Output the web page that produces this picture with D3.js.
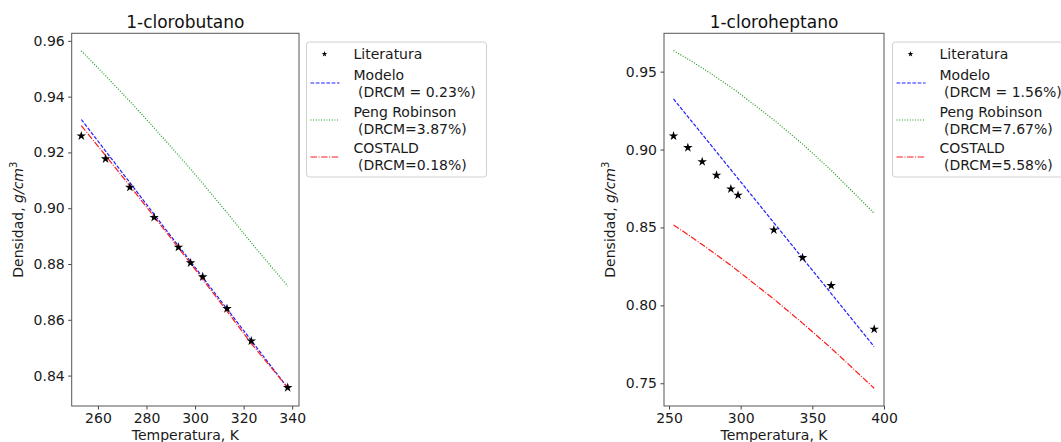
<!DOCTYPE html>
<html>
<head>
<meta charset="utf-8">
<script src="https://cdn.jsdelivr.net/npm/d3@7"></script>
<style>
  body { margin: 0; background: #fff; }
  svg { font-family: "DejaVu Sans", sans-serif; display: block; }
  .pre { white-space: pre; }
</style>
</head>
<body>
<div id="chart"></div>
<script>
// 1-clorobutano
const tempButano = [253.15, 263.15, 273.15, 283.15, 293.15, 298.15, 303.15, 313.15, 323.15, 338.15];
const litButano = [0.9259, 0.9177, 0.9075, 0.8967, 0.8860, 0.8804, 0.8754, 0.8640, 0.8524, 0.8357];
const modeloButano = [0.9318, 0.9205, 0.9092, 0.8978, 0.8865, 0.8809, 0.8752, 0.8639, 0.8526, 0.8356];
const pengButano = [0.9564, 0.9475, 0.9383, 0.9288, 0.9190, 0.9140, 0.9089, 0.8984, 0.8876, 0.8721];
const costaldButano = [0.9296, 0.9189, 0.9080, 0.8970, 0.8858, 0.8802, 0.8745, 0.8631, 0.8515, 0.8357];

// 1-cloroheptano
const tempHeptano = [253.15, 263.15, 273.15, 283.15, 293.15, 298.15, 323.15, 343.15, 363.15, 393.15];
const litHeptano = [0.9087, 0.9012, 0.8922, 0.8835, 0.8747, 0.8707, 0.8484, 0.8306, 0.8127, 0.7847];
const modeloHeptano = [0.9325, 0.9211, 0.9098, 0.8984, 0.8871, 0.8814, 0.8530, 0.8303, 0.8076, 0.7735];
const pengHeptano = [0.9635, 0.9581, 0.9524, 0.9463, 0.9400, 0.9367, 0.9190, 0.9035, 0.8867, 0.8591];
const costaldHeptano = [0.8516, 0.8454, 0.8390, 0.8324, 0.8256, 0.8221, 0.8040, 0.7886, 0.7725, 0.7468];

const xTicksButano = [260, 280, 300, 320, 340];
const yTicksButano = [0.84, 0.86, 0.88, 0.90, 0.92, 0.94, 0.96];
const xTicksHeptano = [250, 300, 350, 400];
const yTicksHeptano = [0.75, 0.80, 0.85, 0.90, 0.95];

const labelsButano = ["Literatura", "Modelo\n (DRCM = 0.23%)", "Peng Robinson\n (DRCM=3.87%)", "COSTALD\n (DRCM=0.18%)"];
const labelsHeptano = ["Literatura", "Modelo\n (DRCM = 1.56%)", "Peng Robinson\n (DRCM=7.67%)", "COSTALD\n (DRCM=5.58%)"];

const W = 1061, H = 442;
const svg = d3.select("#chart").append("svg")
  .attr("width", W)
  .attr("height", H);

const lineStyles = [
  { color: "#1f1fff", dash: "3.7,1.6" },
  { color: "#1a9a1a", dash: "1,1.65" },
  { color: "#ff1a1a", dash: "6.4,1.6,1,1.6" }
];

function drawPanel(opts) {
  const { left, right, top, bottom, xDomain, yDomain, xTicks, yTicks, title, temps, lit, series, labels, legendX, yLabelX } = opts;
  const x = d3.scaleLinear().domain(xDomain).range([left, right]);
  const y = d3.scaleLinear().domain(yDomain).range([bottom, top]);
  const g = svg.append("g");

  // axes
  g.append("g")
    .attr("transform", `translate(0,${bottom})`)
    .call(d3.axisBottom(x).tickValues(xTicks).tickSize(3.5).tickPadding(3.5).tickFormat(d3.format("d")))
    .call(a => a.select(".domain").remove())
    .call(a => a.selectAll("line").attr("stroke", "#444"))
    .call(a => a.selectAll("text").attr("font-size", "14px").attr("fill", "#1a1a1a").attr("font-family", "DejaVu Sans"));

  g.append("g")
    .attr("transform", `translate(${left},0)`)
    .call(d3.axisLeft(y).tickValues(yTicks).tickSize(3.5).tickPadding(3.5).tickFormat(d3.format(".2f")))
    .call(a => a.select(".domain").remove())
    .call(a => a.selectAll("line").attr("stroke", "#444"))
    .call(a => a.selectAll("text").attr("font-size", "14px").attr("fill", "#1a1a1a").attr("font-family", "DejaVu Sans"));

  // lines
  series.forEach((vals, i) => {
    const pts = temps.map((t, k) => [t, vals[k]]);
    g.append("path")
      .datum(pts)
      .attr("fill", "none")
      .attr("stroke", lineStyles[i].color)
      .attr("stroke-width", 1.2)
      .attr("stroke-dasharray", lineStyles[i].dash)
      .attr("d", d3.line().x(d => x(d[0])).y(d => y(d[1])));
  });

  // literature points
  g.selectAll("path.star")
    .data(temps.map((t, k) => [t, lit[k]]))
    .enter().append("path")
    .attr("class", "star")
    .attr("transform", d => `translate(${x(d[0])},${y(d[1])})`)
    .attr("d", d3.symbol(d3.symbolStar, 28))
    .attr("fill", "#000");

  // frame
  g.append("rect")
    .attr("x", left).attr("y", top)
    .attr("width", right - left).attr("height", bottom - top)
    .attr("fill", "none").attr("stroke", "#555").attr("stroke-width", 1);

  // title
  g.append("text")
    .attr("x", (left + right) / 2).attr("y", 28)
    .attr("text-anchor", "middle")
    .attr("font-size", "17px").attr("fill", "#111")
    .text(title);

  // x label
  g.append("text")
    .attr("x", (left + right) / 2).attr("y", 440)
    .attr("text-anchor", "middle")
    .attr("font-size", "14px").attr("fill", "#1a1a1a")
    .text("Temperatura, K");

  // y label
  const yl = g.append("text")
    .attr("transform", `translate(${yLabelX},${(top + bottom) / 2}) rotate(-90)`)
    .attr("text-anchor", "middle")
    .attr("font-size", "14px").attr("fill", "#1a1a1a");
  yl.append("tspan").text("Densidad, ");
  yl.append("tspan").attr("font-style", "italic").text("g/cm");
  yl.append("tspan").attr("font-size", "10px").attr("dy", -6).text("3");

  // legend
  const lg = g.append("g").attr("transform", `translate(${legendX},42)`);
  lg.append("rect")
    .attr("width", 180).attr("height", 135)
    .attr("rx", 3)
    .attr("fill", "#fff").attr("stroke", "#d0d0d0");
  lg.append("path")
    .attr("transform", "translate(18,12)")
    .attr("d", d3.symbol(d3.symbolStar, 10))
    .attr("fill", "#000");
  const rowsY = [41, 78, 115];
  series.forEach((v, i) => {
    lg.append("line")
      .attr("x1", 4).attr("x2", 33)
      .attr("y1", rowsY[i]).attr("y2", rowsY[i])
      .attr("stroke", lineStyles[i].color)
      .attr("stroke-width", 1.2)
      .attr("stroke-dasharray", lineStyles[i].dash);
  });
  const textY = [17, 38, 75, 111];
  labels.forEach((lab, i) => {
    const parts = lab.split("\n");
    const t = lg.append("text")
      .attr("class", "pre")
      .attr("x", 47).attr("y", textY[i])
      .attr("font-size", "14px").attr("fill", "#1a1a1a");
    parts.forEach((p, j) => {
      t.append("tspan").attr("x", 47).attr("dy", j === 0 ? 0 : 16.5).text(p);
    });
  });
}

drawPanel({
  left: 71.7, right: 299, top: 33.3, bottom: 406,
  xDomain: [249.2, 342.8], yDomain: [0.8291, 0.9627],
  xTicks: xTicksButano, yTicks: yTicksButano,
  title: "1-clorobutano",
  temps: tempButano, lit: litButano,
  series: [modeloButano, pengButano, costaldButano],
  labels: labelsButano,
  legendX: 306.5, yLabelX: 23
});

drawPanel({
  left: 664, right: 884, top: 33.3, bottom: 406,
  xDomain: [246.5, 400], yDomain: [0.7354, 0.9746],
  xTicks: xTicksHeptano, yTicks: yTicksHeptano,
  title: "1-cloroheptano",
  temps: tempHeptano, lit: litHeptano,
  series: [modeloHeptano, pengHeptano, costaldHeptano],
  labels: labelsHeptano,
  legendX: 892.5, yLabelX: 615
});
</script>
</body>
</html>
